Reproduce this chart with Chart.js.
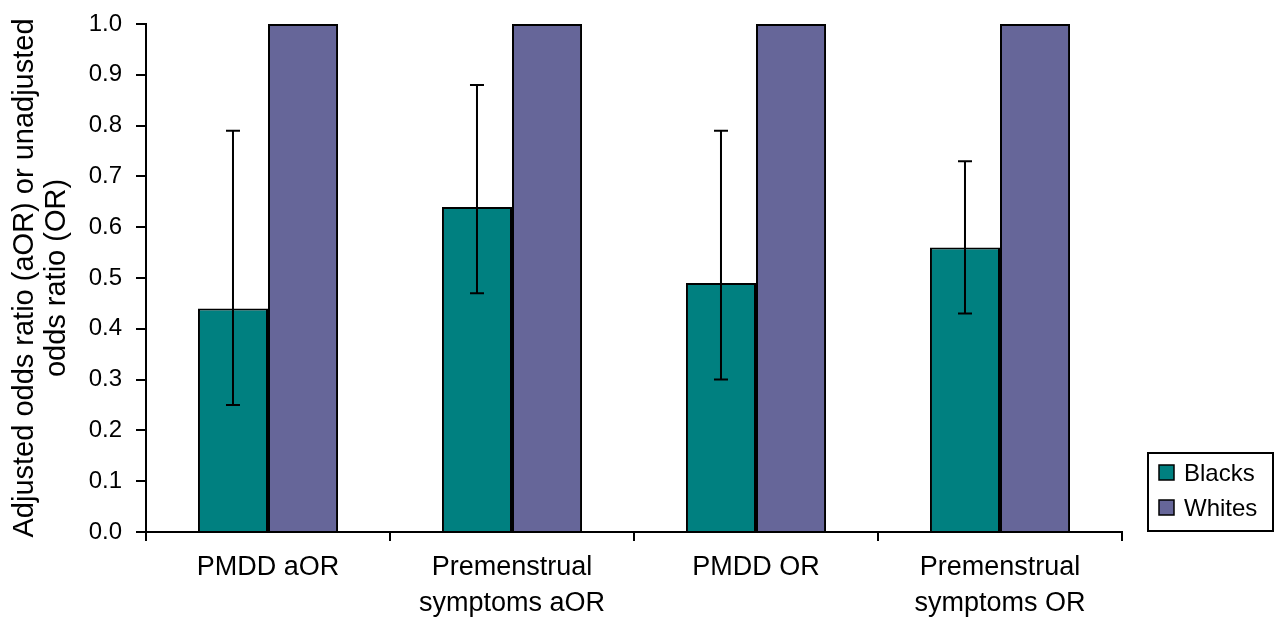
<!DOCTYPE html>
<html>
<head>
<meta charset="utf-8">
<script src="https://cdn.jsdelivr.net/npm/chart.js@4"></script>
<style>
  html, body { margin: 0; padding: 0; background: #fff; }
  #wrap { width: 1277px; height: 625px; }
</style>
</head>
<body>
<div id="wrap"><canvas id="chart_1" width="1277" height="625"></canvas></div>
<script>
// data
const categories = [['PMDD aOR'], ['Premenstrual', 'symptoms aOR'], ['PMDD OR'], ['Premenstrual', 'symptoms OR']];
const blacks = [0.44, 0.64, 0.49, 0.56];
const blacks_low = [0.25, 0.47, 0.30, 0.43];
const blacks_high = [0.79, 0.88, 0.79, 0.73];
const whites = [1.0, 1.0, 1.0, 1.0];
const y_ticks = [0, 0.1, 0.2, 0.3, 0.4, 0.5, 0.6, 0.7, 0.8, 0.9, 1.0];

const font_family = '"Liberation Sans", Arial, Helvetica, sans-serif';

// error bars on the Blacks dataset
const errorBars = {
    id: 'errorBars',
    afterDatasetsDraw(chart) {
        const ctx = chart.ctx;
        const y = chart.scales.y;
        const meta = chart.getDatasetMeta(0);
        ctx.save();
        ctx.strokeStyle = '#000';
        ctx.lineWidth = 2;
        meta.data.forEach((bar, i) => {
            const yl = y.getPixelForValue(blacks_low[i]);
            const yh = y.getPixelForValue(blacks_high[i]);
            ctx.beginPath();
            ctx.moveTo(bar.x, yl);
            ctx.lineTo(bar.x, yh);
            ctx.moveTo(bar.x - 7, yl);
            ctx.lineTo(bar.x + 7, yl);
            ctx.moveTo(bar.x - 7, yh);
            ctx.lineTo(bar.x + 7, yh);
            ctx.stroke();
        });
        ctx.restore();
    }
};

// boxed legend in the lower right corner
const boxLegend = {
    id: 'boxLegend',
    afterDraw(chart) {
        const ctx = chart.ctx;
        const x0 = 1148, y0 = 453, w = 125, h = 78;
        ctx.save();
        ctx.strokeStyle = '#000';
        ctx.lineWidth = 2;
        ctx.strokeRect(x0, y0, w, h);
        ctx.font = '24px ' + font_family;
        ctx.textBaseline = 'alphabetic';
        chart.data.datasets.forEach((ds, i) => {
            const top = 465 + i * 35;
            ctx.fillStyle = ds.backgroundColor;
            ctx.fillRect(1159, top, 15, 15);
            ctx.lineWidth = 1.5;
            ctx.strokeRect(1159, top, 15, 15);
            ctx.fillStyle = '#000';
            ctx.fillText(ds.label, 1184, top + 16);
        });
        ctx.restore();
    }
};

var myBarChart = new Chart(document.getElementById('chart_1').getContext('2d'), {
    type: 'bar',
    data: {
        labels: categories,
        datasets: [{
            label: 'Blacks',
            data: blacks,
            backgroundColor: '#008080',
            borderColor: '#000',
            borderWidth: 2,
            borderSkipped: 'bottom'
        }, {
            label: 'Whites',
            data: whites,
            backgroundColor: '#666699',
            borderColor: '#000',
            borderWidth: 2,
            borderSkipped: 'bottom'
        }]
    },
    options: {
        responsive: false,
        animation: false,
        devicePixelRatio: 1,
        layout: { padding: { top: 24, right: 155, left: 0, bottom: 0 } },
        datasets: { bar: { categoryPercentage: 0.574, barPercentage: 1.0 } },
        plugins: {
            legend: { display: false },
            tooltip: { enabled: false }
        },
        scales: {
            x: {
                afterFit: (axis) => {
                    axis.height = 93;
                    axis.paddingLeft = 0;
                    axis.paddingRight = 0;
                },
                grid: { offset: true, drawOnChartArea: false, tickLength: 9, color: '#000', lineWidth: 2 },
                border: { color: '#000', width: 2 },
                ticks: { color: '#000', font: { family: font_family, size: 27, lineHeight: 1.33 }, padding: 9, maxRotation: 0 }
            },
            y: {
                min: 0,
                max: 1,
                afterFit: (axis) => {
                    axis.width = 146;
                    axis.paddingTop = 0;
                    axis.paddingBottom = 0;
                },
                afterBuildTicks: (axis) => { axis.ticks = y_ticks.map(v => ({ value: v })); },
                grid: { drawOnChartArea: false, tickLength: 10, color: '#000', lineWidth: 2 },
                border: { color: '#000', width: 2 },
                ticks: {
                    color: '#000',
                    font: { family: font_family, size: 24 },
                    padding: 14,
                    callback: (v) => Number(v).toFixed(1)
                },
                title: {
                    display: true,
                    text: ['Adjusted odds ratio (aOR) or unadjusted', 'odds ratio (OR)'],
                    color: '#000',
                    font: { family: font_family, size: 29, lineHeight: 1.1 },
                    padding: { top: 9, bottom: 0 }
                }
            }
        }
    },
    plugins: [errorBars, boxLegend]
});
</script>
</body>
</html>
